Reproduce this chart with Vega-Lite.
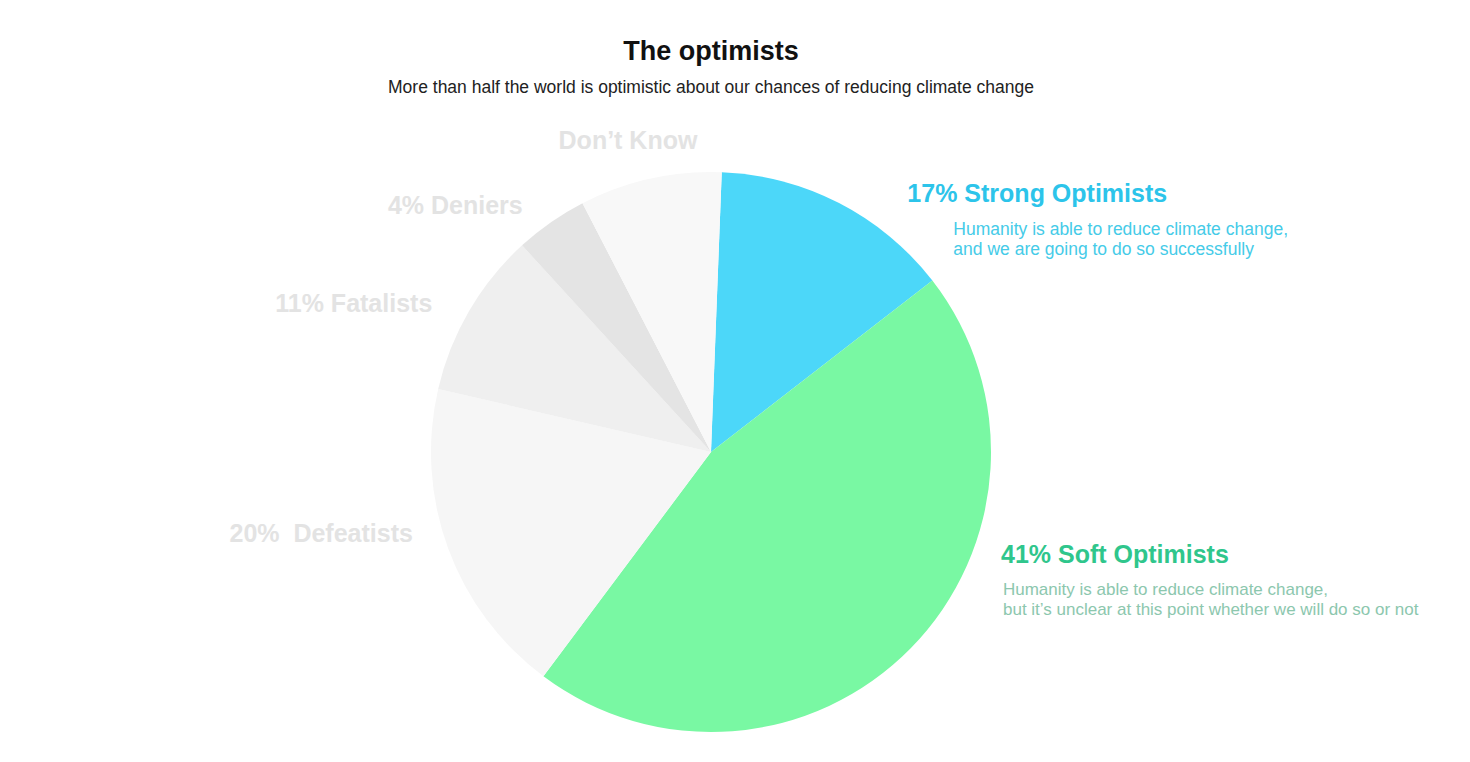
{
  "$schema": "https://vega.github.io/schema/vega-lite/v6.json",
  "width": 560,
  "height": 560,
  "autosize": {"type": "none"},
  "padding": {"left": 431, "top": 172, "right": 479, "bottom": 30},
  "background": "white",
  "config": {"view": {"stroke": null}, "font": "Liberation Sans"},
  "title": {
    "text": "The optimists",
    "subtitle": "More than half the world is optimistic about our chances of reducing climate change",
    "anchor": "middle",
    "fontSize": 27,
    "fontWeight": "bold",
    "color": "#111111",
    "subtitleFontSize": 17.5,
    "subtitleColor": "#222222",
    "subtitlePadding": 13,
    "offset": -57,
    "font": "Liberation Sans",
    "subtitleFont": "Liberation Sans"
  },
  "data": {
    "values": [
      {"key": "strong", "rank": 1, "v": 13.9, "label": "17% Strong Optimists", "desc": "Humanity is able to reduce climate change,\nand we are going to do so successfully"},
      {"key": "soft", "rank": 2, "v": 45.7, "label": "41% Soft Optimists", "desc": "Humanity is able to reduce climate change,\nbut it’s unclear at this point whether we will do so or not"},
      {"key": "defeatists", "rank": 3, "v": 18.4, "label": "20%\u00a0 Defeatists", "desc": ""},
      {"key": "fatalists", "rank": 4, "v": 9.6, "label": "11% Fatalists", "desc": ""},
      {"key": "deniers", "rank": 5, "v": 4.2, "label": "4% Deniers", "desc": ""},
      {"key": "dontknow", "rank": 6, "v": 8.2, "label": "Don’t Know", "desc": ""}
    ]
  },
  "encoding": {
    "theta": {"field": "v", "type": "quantitative", "stack": true, "scale": {"range": [0.0384, 6.3216]}},
    "order": {"field": "rank", "type": "quantitative"}
  },
  "layer": [
    {
      "mark": {"type": "arc", "outerRadius": 280},
      "encoding": {
        "color": {
          "field": "key",
          "type": "nominal",
          "legend": null,
          "scale": {
            "domain": ["strong", "soft", "defeatists", "fatalists", "deniers", "dontknow"],
            "range": ["#4cd7f9", "#79f8a3", "#f6f6f6", "#efefef", "#e4e4e4", "#f8f8f8"]
          }
        }
      }
    },
    {
      "mark": {"type": "text", "radius": 320, "align": "left", "baseline": "middle", "dx": 50, "dy": 27, "fontSize": 25, "fontWeight": "bold", "color": "#2cc4ea"},
      "encoding": {"text": {"condition": {"test": "datum.key == 'strong'", "field": "label"}, "value": ""}}
    },
    {
      "mark": {"type": "text", "radius": 320, "align": "left", "baseline": "top", "dx": 96, "dy": 54, "fontSize": 17.5, "lineHeight": 20, "lineBreak": "\n", "color": "#45cbe8"},
      "encoding": {"text": {"condition": {"test": "datum.key == 'strong'", "field": "desc"}, "value": ""}}
    },
    {
      "mark": {"type": "text", "radius": 300, "align": "left", "baseline": "middle", "dx": 76, "dy": -107, "fontSize": 25, "fontWeight": "bold", "color": "#2fc68c"},
      "encoding": {"text": {"condition": {"test": "datum.key == 'soft'", "field": "label"}, "value": ""}}
    },
    {
      "mark": {"type": "text", "radius": 300, "align": "left", "baseline": "top", "dx": 78, "dy": -80, "fontSize": 17, "lineHeight": 20, "lineBreak": "\n", "color": "#8cc7ae"},
      "encoding": {"text": {"condition": {"test": "datum.key == 'soft'", "field": "desc"}, "value": ""}}
    },
    {
      "mark": {"type": "text", "radius": 310, "align": "right", "baseline": "middle", "dx": -11, "dy": 8, "fontSize": 25, "fontWeight": "bold", "color": "#e3e3e3"},
      "encoding": {"text": {"condition": {"test": "datum.key == 'deniers' || datum.key == 'fatalists'", "field": "label"}, "value": ""}}
    },
    {
      "mark": {"type": "text", "radius": 310, "align": "right", "baseline": "middle", "dx": -7, "dy": -25, "fontSize": 25, "fontWeight": "bold", "color": "#e3e3e3"},
      "encoding": {"text": {"condition": {"test": "datum.key == 'defeatists'", "field": "label"}, "value": ""}}
    },
    {
      "mark": {"type": "text", "radius": 322, "align": "center", "baseline": "middle", "dx": -13, "dy": 3, "fontSize": 25, "fontWeight": "bold", "color": "#e3e3e3"},
      "encoding": {"text": {"condition": {"test": "datum.key == 'dontknow'", "field": "label"}, "value": ""}}
    }
  ]
}
